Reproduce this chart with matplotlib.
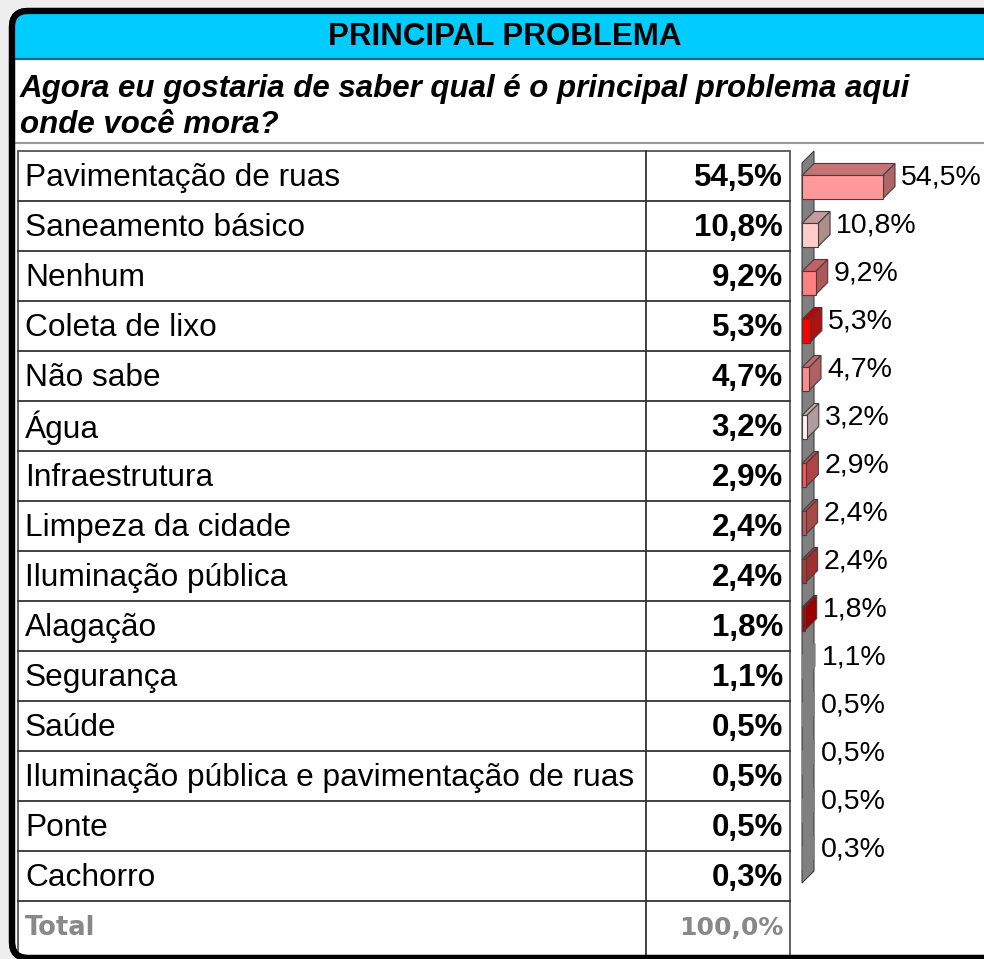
import matplotlib
matplotlib.use("Agg")
import matplotlib.pyplot as plt
from matplotlib.patches import Polygon, Rectangle, FancyBboxPatch

# data
categories = ["Pavimentação de ruas", "Saneamento básico", "Nenhum", "Coleta de lixo",
              "Não sabe", "Água", "Infraestrutura", "Limpeza da cidade",
              "Iluminação pública", "Alagação", "Segurança", "Saúde",
              "Iluminação pública e pavimentação de ruas", "Ponte", "Cachorro"]
values = [54.5, 10.8, 9.2, 5.3, 4.7, 3.2, 2.9, 2.4, 2.4, 1.8, 1.1, 0.5, 0.5, 0.5, 0.3]
labels = ["54,5%", "10,8%", "9,2%", "5,3%", "4,7%", "3,2%", "2,9%", "2,4%",
          "2,4%", "1,8%", "1,1%", "0,5%", "0,5%", "0,5%", "0,3%"]
total_label = "100,0%"
title = "PRINCIPAL PROBLEMA"
question = ["Agora eu gostaria de saber qual é o principal problema aqui", "onde você mora?"]

# colours (front, top, side) per bar; the last ones melt into the grey wall
front_c = ["#FF9999", "#FFCCCC", "#FF8080", "#FF0000", "#FF8C8C", "#FFF0F0", "#FF5555",
           "#C05858", "#B03838", "#B80000", "#808080", "#808080", "#808080", "#808080", "#808080"]
top_c = ["#C47474", "#C49C9C", "#C46262", "#C40000", "#C46A6A", "#C4AEAE", "#C44A4A",
         "#B05050", "#A83535", "#A00000", "#808080", "#808080", "#808080", "#808080", "#808080"]
side_c = ["#B06666", "#B08C8C", "#B05656", "#B01010", "#B06060", "#B09C9C", "#B04444",
          "#A84848", "#A03030", "#990000", "#808080", "#808080", "#808080", "#808080", "#808080"]
n_visible = 10

W, H = 984, 959
fig = plt.figure(figsize=(W / 100, H / 100), dpi=100)
fig.patch.set_facecolor("#EEEEEE")
plt.rcParams['font.family'] = ['Liberation Sans', 'DejaVu Sans']

bg = fig.add_axes([0, 0, 1, 1])
bg.set_xlim(0, W)
bg.set_ylim(H, 0)
bg.axis("off")

# outer rounded frame
frame = FancyBboxPatch((12, 11), 1010, 947, boxstyle="round,pad=0,rounding_size=16",
                       facecolor="white", edgecolor="black", linewidth=4.5, zorder=1)
bg.add_patch(frame)
head = Rectangle((0, 0), W + 50, 58, facecolor="#00CCFF", edgecolor="none", zorder=2)
bg.add_patch(head)
head.set_clip_path(frame)
bg.plot([14, W], [59, 59], color="#006F8C", lw=1.6, zorder=3)
frame2 = FancyBboxPatch((12, 11), 1010, 947, boxstyle="round,pad=0,rounding_size=16",
                        facecolor="none", edgecolor="black", linewidth=4.5, zorder=4)
bg.add_patch(frame2)

bg.text(505, 37, title, ha="center", va="center", fontsize=22.5, fontweight="bold", zorder=5)
bg.text(20, 89, question[0], ha="left", va="center", fontsize=22.5, fontweight="bold",
        fontstyle="italic", zorder=5)
bg.text(20, 125, question[1], ha="left", va="center", fontsize=22.5, fontweight="bold",
        fontstyle="italic", zorder=5)
bg.plot([14, W], [143, 143], color="#999999", lw=1.5, zorder=3)

# table
top, rh = 151, 50
nrows = len(categories) + 1
bg.add_patch(Rectangle((18, top), 790 - 18, 957 - top, facecolor="none",
                       edgecolor="#555555", lw=1.3, zorder=3))
for i in range(1, nrows):
    bg.plot([18, 790], [top + i * rh, top + i * rh], color="#333333", lw=1.3, zorder=3)
bg.plot([646, 646], [top, 957], color="#333333", lw=1.3, zorder=3)

for i, (c, lab) in enumerate(zip(categories, labels)):
    yc = top + i * rh + rh / 2 + 2
    bg.text(25, yc, c, ha="left", va="center", fontsize=22.8, zorder=5)
    bg.text(783, yc, lab, ha="right", va="center", fontsize=22.5, fontweight="bold", zorder=5)
yc = top + len(categories) * rh + rh / 2 + 2
bg.text(25, yc, "Total", ha="left", va="center", fontsize=18.5, fontweight="bold",
        color="#888888", family="DejaVu Sans", zorder=5)
bg.text(783, yc, total_label, ha="right", va="center", fontsize=18, fontweight="bold",
        color="#888888", family="DejaVu Sans", zorder=5)

# 3D bar chart
px_per_pct = 1.486
left_px, top_px, bot_px = 802, 115, 931
ax = fig.add_axes([left_px / W, 1 - bot_px / H, (W - left_px) / W, (bot_px - top_px) / H])
ax.set_xlim(0, (W - left_px) / px_per_pct)
ax.set_ylim(len(values) + 0.5, -1.5)
ax.axis("off")
ax.patch.set_alpha(0)

dx = 12 / px_per_pct
dy = 0.25
h = 0.24
n = len(values)
ec = "#404040"

wall = Polygon([(0, -0.5), (0, n - 0.5), (dx, n - 0.5 - dy), (dx, -0.5 - dy)],
               closed=True, facecolor="#808080", edgecolor=ec, lw=0.8, clip_on=False)
ax.add_patch(wall)

for k, v in enumerate(values):
    y0, y1 = k - h, k + h
    lw = 0.8 if k < n_visible else 0
    front = Polygon([(0, y0), (v, y0), (v, y1), (0, y1)], closed=True,
                    facecolor=front_c[k], edgecolor=ec, lw=lw, clip_on=False)
    topf = Polygon([(0, y0), (v, y0), (v + dx, y0 - dy), (dx, y0 - dy)], closed=True,
                   facecolor=top_c[k], edgecolor=ec, lw=lw, clip_on=False)
    side = Polygon([(v, y0), (v + dx, y0 - dy), (v + dx, y1 - dy), (v, y1)], closed=True,
                   facecolor=side_c[k], edgecolor=ec, lw=lw, clip_on=False)
    for p in (topf, side, front):
        ax.add_patch(p)
    ax.text(v + dx + 4, k - 0.2, labels[k], ha="left", va="center", fontsize=20.5,
            clip_on=False)

fig.savefig("out.png", dpi=100, facecolor=fig.get_facecolor())
